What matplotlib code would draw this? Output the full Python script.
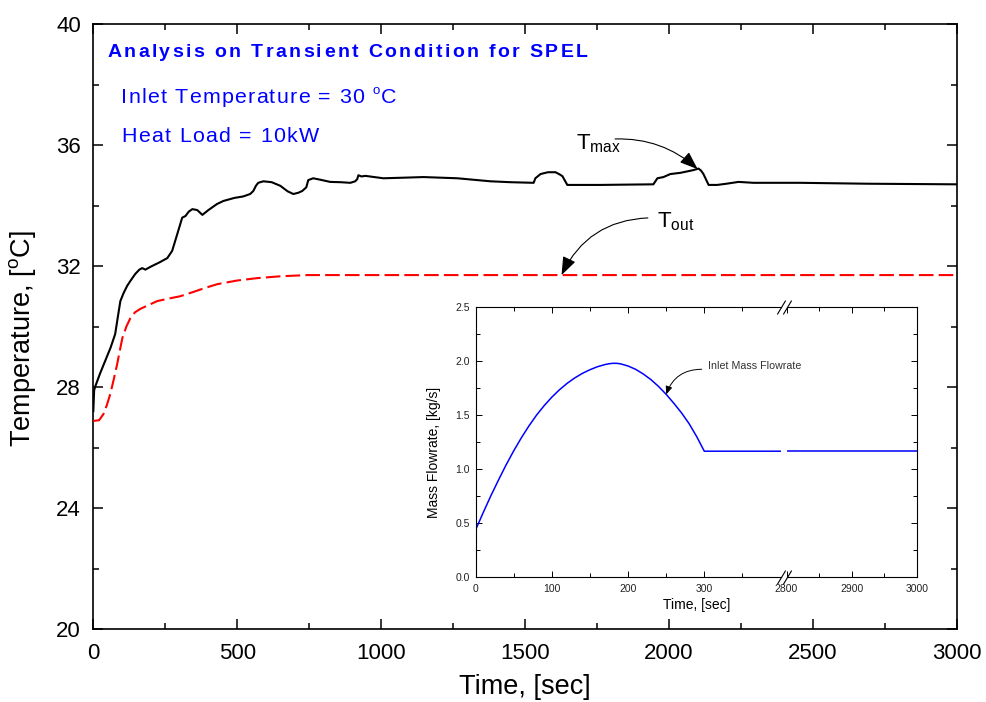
import matplotlib
matplotlib.use("Agg")
import matplotlib.pyplot as plt
from matplotlib.ticker import MultipleLocator, FixedLocator, FormatStrFormatter
from matplotlib.transforms import IdentityTransform
from matplotlib.font_manager import FontProperties, findfont
from matplotlib.ft2font import FT2Font

plt.rcParams["font.family"] = ["Liberation Sans", "DejaVu Sans"]
plt.rcParams["mathtext.fontset"] = "custom"
plt.rcParams["mathtext.rm"] = "Liberation Sans"
plt.rcParams["mathtext.it"] = "Liberation Sans:italic"
plt.rcParams["mathtext.bf"] = "Liberation Sans:bold"

# ---- data -------------------------------------------------------------
tmax_time = [0, 3, 8, 24, 45, 60, 76, 85, 94, 105, 118, 132, 146, 160, 170, 181,
             200, 230, 257, 274, 290, 309, 320, 332, 344, 361, 379, 400, 430, 452,
             490, 521, 545, 556, 565, 573, 591, 620, 650, 675, 695, 712, 726, 740,
             747, 764, 790, 823, 860, 893, 910, 917, 921, 932, 945, 1008, 1080,
             1147, 1265, 1380, 1450, 1530, 1536, 1554, 1580, 1606, 1620, 1630,
             1647, 1700, 1762, 1850, 1946, 1960, 1981, 2005, 2040, 2085, 2103,
             2112, 2120, 2138, 2168, 2200, 2242, 2294, 2457, 2690, 3000]
tmax_vals = [27.2, 27.9, 28.05, 28.46, 28.95, 29.3, 29.75, 30.3, 30.84, 31.1, 31.35,
             31.55, 31.74, 31.88, 31.93, 31.88, 31.98, 32.12, 32.26, 32.5, 33.0,
             33.6, 33.65, 33.8, 33.88, 33.85, 33.69, 33.85, 34.05, 34.15, 34.25,
             34.3, 34.38, 34.48, 34.65, 34.75, 34.8, 34.77, 34.65, 34.47, 34.38,
             34.42, 34.48, 34.6, 34.84, 34.9, 34.85, 34.78, 34.77, 34.75, 34.8,
             34.87, 35.0, 34.96, 34.98, 34.9, 34.92, 34.94, 34.9, 34.8, 34.77,
             34.75, 34.9, 35.04, 35.1, 35.1, 35.03, 34.97, 34.68, 34.68, 34.68,
             34.69, 34.7, 34.9, 34.94, 35.04, 35.08, 35.17, 35.22, 35.15, 35.04,
             34.68, 34.68, 34.72, 34.78, 34.75, 34.75, 34.72, 34.7]

tout_time = [0, 20, 35, 47, 59, 71, 83, 92, 101, 115, 129, 145, 163, 190, 222, 260,
             302, 350, 390, 431, 500, 570, 650, 744, 900, 1147, 3000]
tout_vals = [26.88, 26.9, 27.1, 27.4, 27.77, 28.25, 28.76, 29.2, 29.62, 30.0, 30.28,
             30.47, 30.58, 30.7, 30.84, 30.92, 31.0, 31.15, 31.28, 31.4, 31.52,
             31.6, 31.66, 31.7, 31.7, 31.7, 31.7]

flow_time = [0, 10, 20, 30, 40, 50, 60, 70, 80, 90, 100, 110, 120, 130, 140, 150,
             160, 170, 175, 180, 185, 190, 200, 210, 220, 230, 240, 250, 260, 270,
             280, 290, 300, 3000]
flow_vals = [0.44, 0.60, 0.755, 0.90, 1.04, 1.17, 1.29, 1.40, 1.50, 1.587, 1.665,
             1.733, 1.792, 1.842, 1.884, 1.918, 1.946, 1.966, 1.973, 1.977, 1.977,
             1.972, 1.952, 1.921, 1.878, 1.826, 1.763, 1.69, 1.608, 1.52, 1.42,
             1.30, 1.165, 1.165]

x_major_ticks = [0, 500, 1000, 1500, 2000, 2500, 3000]
y_major_ticks = [20, 24, 28, 32, 36, 40]
inset_left_ticks = [0, 100, 200, 300]
inset_right_ticks = [2800, 2900, 3000]
inset_y_ticks = [0.0, 0.5, 1.0, 1.5, 2.0, 2.5]

# ---- figure -----------------------------------------------------------
W, H, DPI = 986, 702, 100
fig = plt.figure(figsize=(W / DPI, H / DPI), dpi=DPI)
fig.patch.set_facecolor("white")


def px_box(x0, y0, x1, y1):
    """Axes rectangle from pixel edges measured from the top-left corner."""
    return [x0 / W, 1 - y1 / H, (x1 - x0) / W, (y1 - y0) / H]


def tracked_text(x_px, y_px, segments, size, color, weight="normal", tracking=0.0):
    """Draw text glyph by glyph with extra letter spacing (baseline at y_px)."""
    prop = FontProperties(family="Liberation Sans", weight=weight)
    font = FT2Font(findfont(prop))
    x = x_px
    for chunk, scale, rise in segments:
        pt = size * scale
        font.set_size(pt, DPI)
        for ch in chunk:
            fig.text(x, H - y_px + rise * size * DPI / 72, ch,
                     transform=IdentityTransform(), fontproperties=prop,
                     fontsize=pt, color=color, ha="left", va="baseline")
            glyph = font.load_char(ord(ch))
            x += glyph.linearHoriAdvance / 65536 + tracking


# ---- main axes ----------------------------------------------------------
ax = fig.add_axes(px_box(93.3, 24, 956.7, 629))
ax.plot(tmax_time, tmax_vals, color="black", lw=1.5, zorder=3)
ax.plot(tout_time, tout_vals, color="red", lw=1.5, dashes=(7, 2.5), zorder=3)

ax.set_xlim(0, 3000)
ax.set_ylim(20, 40)
ax.xaxis.set_major_locator(FixedLocator(x_major_ticks))
ax.xaxis.set_minor_locator(MultipleLocator(250))
ax.yaxis.set_major_locator(FixedLocator(y_major_ticks))
ax.yaxis.set_minor_locator(MultipleLocator(2))
ax.tick_params(which="both", direction="in", top=True, right=True, width=1.1,
               labelsize=16, colors="black")
ax.tick_params(axis="y", which="both", pad=9)
ax.tick_params(axis="x", which="both", pad=10)
ax.tick_params(which="major", length=7.5)
ax.tick_params(which="minor", length=4.3)
for sp in ax.spines.values():
    sp.set_linewidth(1.2)

ax.set_xlabel("Time, [sec]", fontsize=19.5, va="top")
ax.xaxis.set_label_coords(0.5, -0.074)
ax.set_ylabel(r"Temperature, [$^{\mathrm{o}}$C]", fontsize=19.5)
ax.yaxis.set_label_coords(-0.0637, 0.479)

arrow_main = dict(arrowstyle="-|>,head_length=0.8,head_width=0.3", color="black",
                  lw=0.8, mutation_scale=14, shrinkA=0, shrinkB=0)
ax.annotate("", xy=(2100, 35.2), xytext=(1813, 36.2),
            arrowprops=dict(arrow_main, connectionstyle="arc3,rad=-0.2"))
ax.text(1677, 35.87, r"T$_{\mathrm{max}}$", fontsize=16, ha="left", va="baseline")
ax.annotate("", xy=(1627, 31.7), xytext=(1927, 33.59),
            arrowprops=dict(arrow_main, connectionstyle="arc3,rad=0.3"))
ax.text(1958, 33.26, r"T$_{\mathrm{out}}$", fontsize=16, ha="left", va="baseline")

# ---- headline texts -----------------------------------------------------
tracked_text(107.3, 56.7, [("Analysis on Transient Condition for SPEL", 1.0, 0)],
             size=14, color="#0000ff", weight="bold", tracking=2.4)
tracked_text(121, 102.7, [("Inlet Temperature = 30 ", 1.0, 0), ("o", 0.62, 0.42),
                          ("C", 1.0, 0)],
             size=15.4, color="#0000ff", tracking=1.25)
tracked_text(121, 141.7, [("Heat Load = 10kW", 1.0, 0)],
             size=15.4, color="#0000ff", tracking=1.35)

# ---- inset: broken time axis --------------------------------------------
axL = fig.add_axes(px_box(475.7, 306.7, 780.5, 577.3))
axR = fig.add_axes(px_box(786.5, 306.7, 917, 577.3))
axR.patch.set_visible(False)
for a in (axL, axR):
    a.plot(flow_time, flow_vals, color="blue", lw=1.1)
    a.set_ylim(0, 2.5)
    a.yaxis.set_major_locator(FixedLocator(inset_y_ticks))
    a.yaxis.set_minor_locator(MultipleLocator(0.25))
    a.tick_params(which="both", direction="in", top=True, width=0.7,
                  labelsize=7.5, labelcolor="#222222")
    a.tick_params(which="major", length=4.5)
    a.tick_params(which="minor", length=2.7)
    a.tick_params(axis="x", which="both", pad=5)
    a.tick_params(axis="y", which="both", pad=4)
    for sp in a.spines.values():
        sp.set_linewidth(0.8)

axL.set_xlim(0, 400)
axL.xaxis.set_major_locator(FixedLocator(inset_left_ticks))
axL.xaxis.set_minor_locator(FixedLocator([50, 150, 250, 350]))
axL.yaxis.set_major_formatter(FormatStrFormatter("%.1f"))
axL.spines["right"].set_visible(False)
axL.tick_params(which="both", right=False)

axR.set_xlim(2800, 3000)
axR.xaxis.set_major_locator(FixedLocator(inset_right_ticks))
axR.xaxis.set_minor_locator(FixedLocator([2850, 2950]))
axR.spines["left"].set_visible(False)
axR.tick_params(which="both", left=False, right=True, labelleft=False)

# break marks on the time axis
brk = dict(marker=[(-0.6, -1), (0.6, 1)], markersize=10, linestyle="none",
           color="black", mec="black", mew=0.8, clip_on=False)
axL.plot([1, 1], [0, 1], transform=axL.transAxes, **brk)
axR.plot([0, 0], [0, 1], transform=axR.transAxes, **brk)

axL.set_ylabel("Mass Flowrate, [kg/s]", fontsize=10)
axL.yaxis.set_label_coords(-0.114, 0.463)
fig.text(696.3 / W, 1 - 609.5 / H, "Time, [sec]", fontsize=10, ha="center",
         va="baseline")

axL.annotate("", xy=(250, 1.69), xytext=(296.6, 1.922),
             arrowprops=dict(arrowstyle="-|>,head_length=0.6,head_width=0.25",
                             connectionstyle="arc3,rad=0.35", color="black",
                             lw=0.7, mutation_scale=8, shrinkA=0, shrinkB=0))
axL.text(304.9, 1.955, "Inlet Mass Flowrate", fontsize=7.7, color="#333333",
         ha="left", va="center", zorder=5)

fig.savefig("out.png", dpi=DPI)
